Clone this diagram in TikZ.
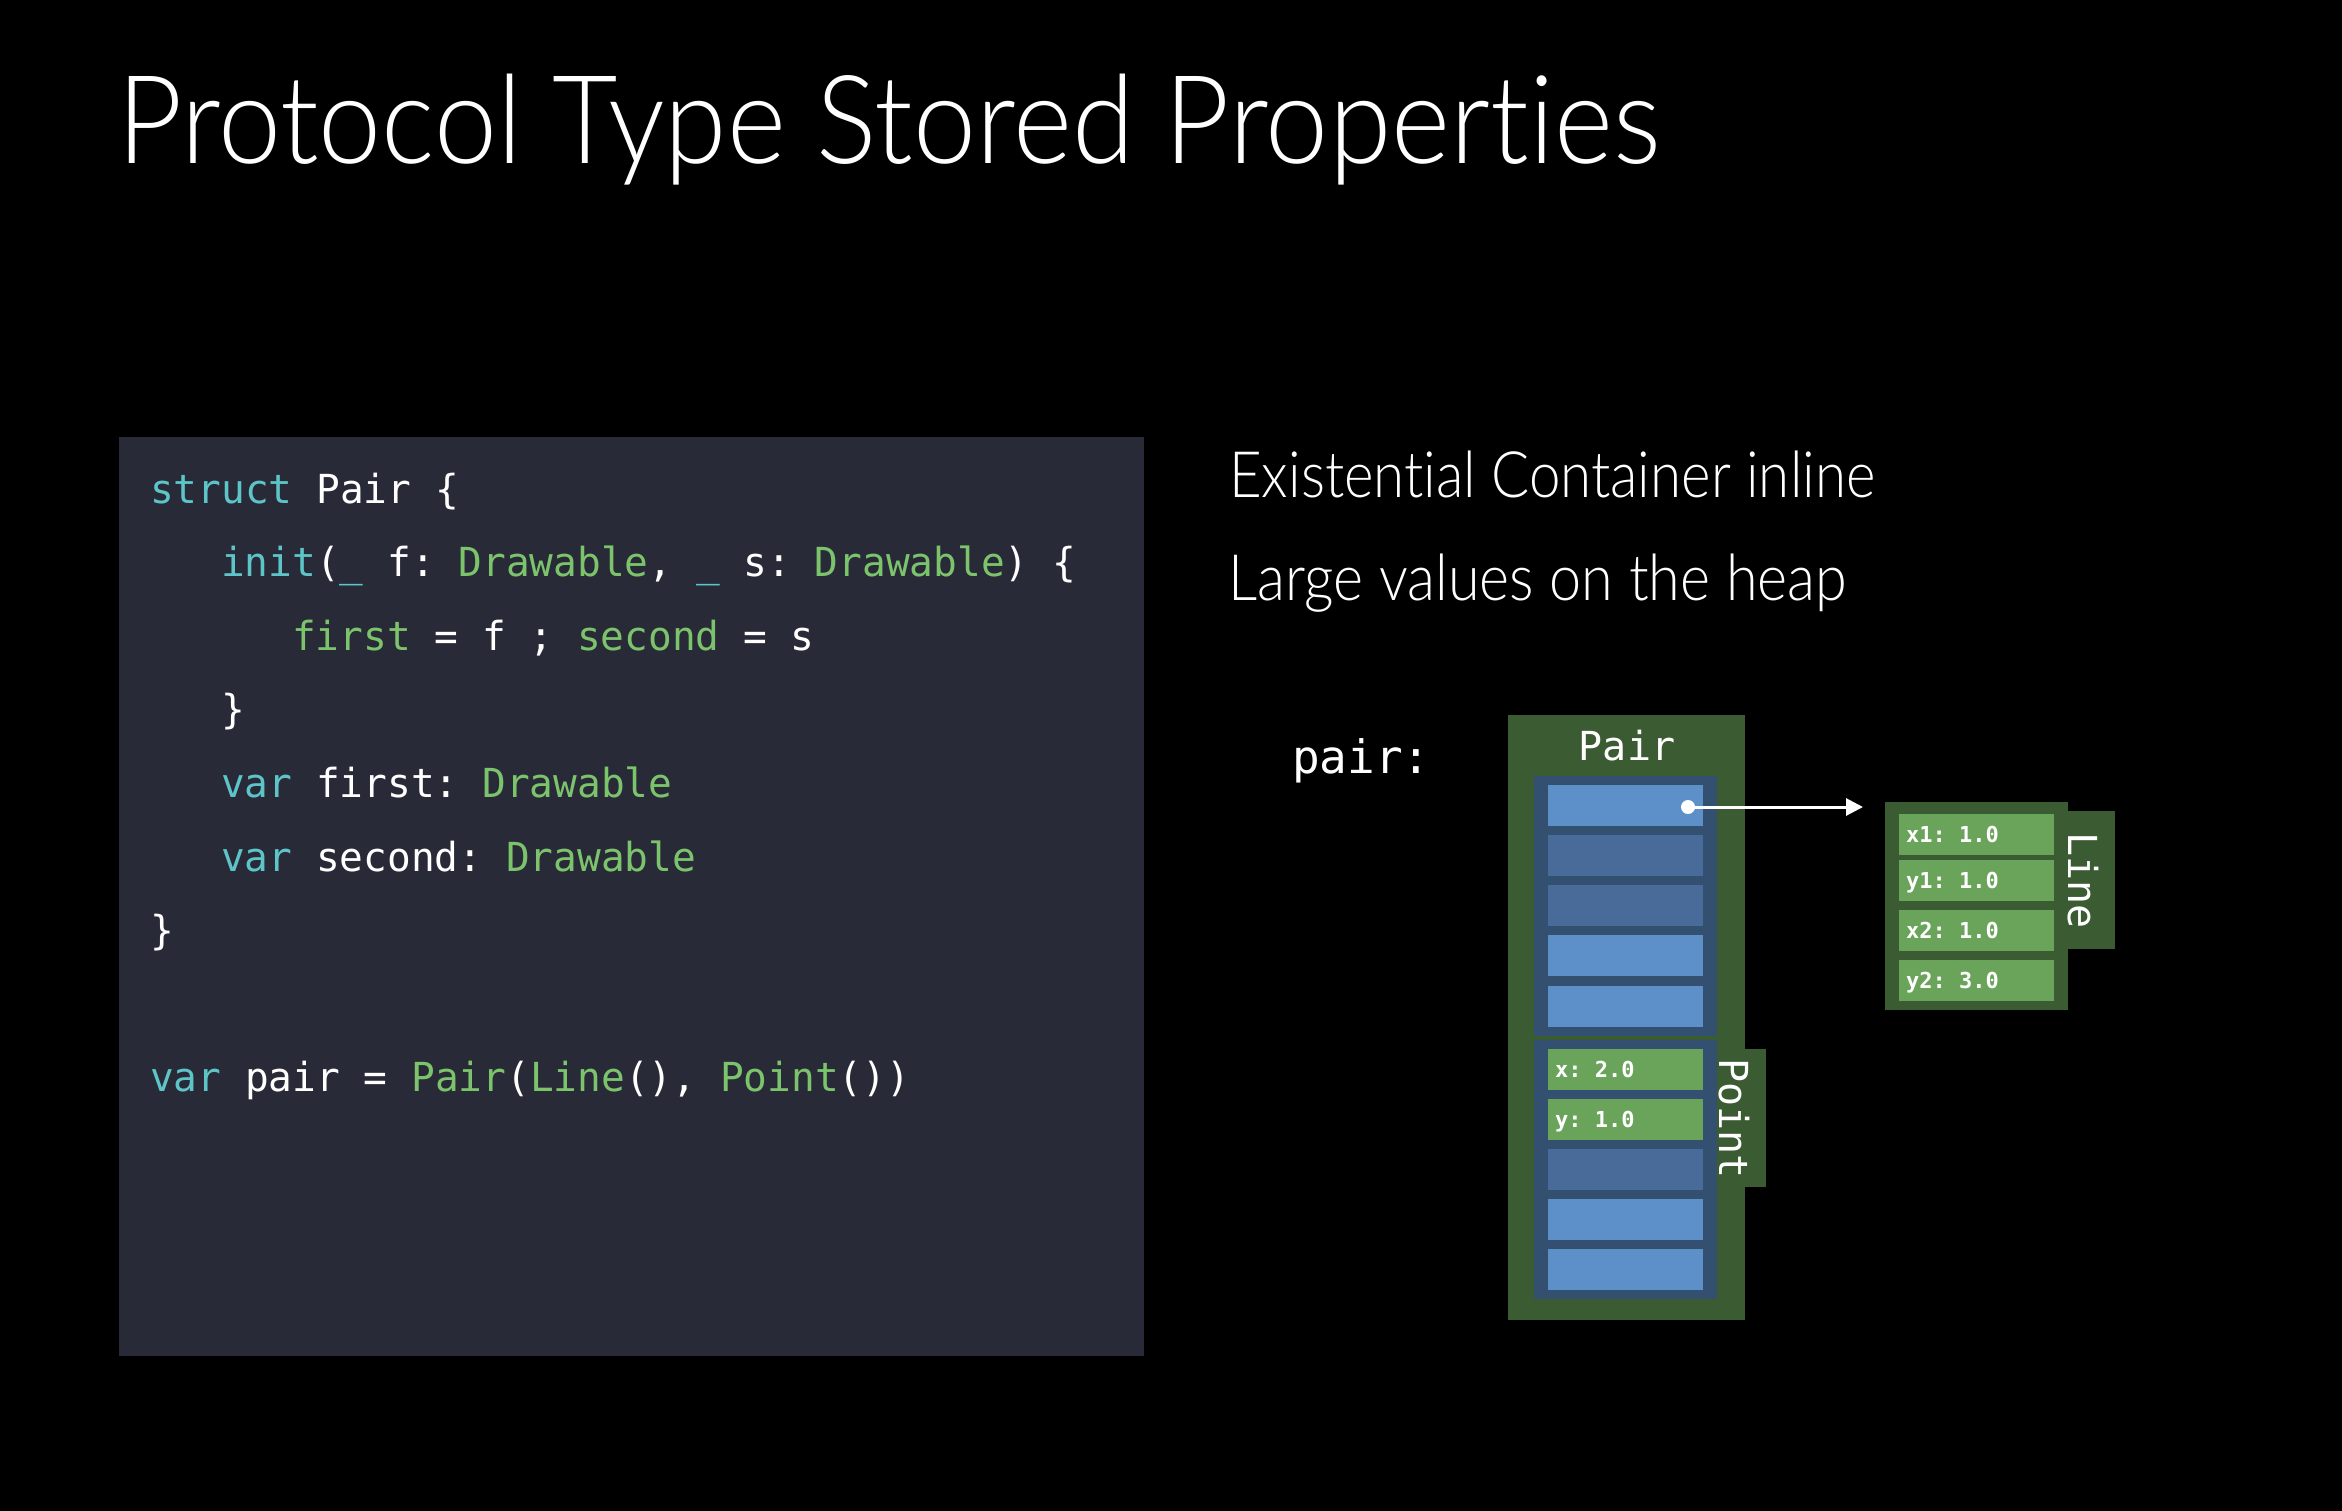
\documentclass[tikz,border=0pt]{standalone}
\usepackage{fontspec}
\usepackage{graphicx}
\setmainfont{Open Sans}
\IfFontExistsTF{Lato Light}
  {\newfontfamily\titlefont[Ligatures=NoCommon]{Lato Light}}
  {\newfontfamily\titlefont{Open Sans}}
\newfontfamily\codefont[FakeStretch=0.986]{DejaVu Sans Mono}
\newfontfamily\lblfont{DejaVu Sans Mono}
\usetikzlibrary{arrows.meta}
\definecolor{panelbg}{RGB}{41,42,56}
\definecolor{kwcol}{RGB}{93,196,200}
\definecolor{tycol}{RGB}{124,196,108}
\definecolor{boxgreen}{RGB}{59,91,50}
\definecolor{contblue}{RGB}{52,80,112}
\definecolor{slotlight}{RGB}{93,144,201}
\definecolor{slotmid}{RGB}{72,107,154}
\definecolor{slotgreen}{RGB}{106,164,91}
\newcommand\kwc[1]{\textcolor{kwcol}{#1}}
\newcommand\tyc[1]{\textcolor{tycol}{#1}}
\frenchspacing
\begin{document}
\begin{tikzpicture}[x=1pt,y=-1pt,
  codeline/.style={anchor=base west, inner sep=0pt, text=white, font=\codefont\fontsize{40}{48}\selectfont\frenchspacing},
  bigbox/.style={rectangle, inner sep=0pt, anchor=north west, fill=boxgreen},
  contbox/.style={rectangle, inner sep=0pt, anchor=north west, fill=contblue, minimum width=183pt},
  slotbox/.style={rectangle, inner sep=0pt, anchor=north west, minimum width=155pt, minimum height=41pt},
  slotlbl/.style={anchor=base west, inner sep=0pt, text=white, font=\lblfont\bfseries\fontsize{22}{26}\selectfont\frenchspacing},
  typelbl/.style={inner sep=0pt, text=white, font=\lblfont\fontsize{40}{48}\selectfont},
  subtitle/.style={anchor=base west, inner sep=0pt, text=white, font=\titlefont\fontsize{64}{72}\selectfont}
]
\useasboundingbox (0,0) rectangle (2342,1510);
\fill[black] (-5,-5) rectangle (2347,1515);

% title
\node[anchor=base west, inner sep=0pt, text=white, font=\titlefont\fontsize{123}{134}\selectfont] (title) at (117,163)
  {\resizebox{1543pt}{\height}{Protocol Type Stored Properties}};

% code panel
\fill[panelbg] (119,437) rectangle (1144,1356);
\node[codeline] (c0) at (150,503) {\kwc{struct} Pair \{};
\node[codeline] (c1) at (221,576.6) {\kwc{init}(\kwc{\_} f: \tyc{Drawable}, \kwc{\_} s: \tyc{Drawable}) \{};
\node[codeline] (c2) at (292,650.2) {\tyc{first} = f ; \tyc{second} = s};
\node[codeline] (c3) at (221,723.8) {\}};
\node[codeline] (c4) at (221,797.4) {\kwc{var} first: \tyc{Drawable}};
\node[codeline] (c5) at (221,871) {\kwc{var} second: \tyc{Drawable}};
\node[codeline] (c6) at (150,944.6) {\}};
\node[codeline] (c7) at (150,1091.8) {\kwc{var} pair = \tyc{Pair}(\tyc{Line}(), \tyc{Point}())};

% subtitles
\node[subtitle] (sub1) at (1229,497) {\resizebox{646pt}{\height}{Existential Container inline}};
\node[subtitle] (sub2) at (1228,600) {\resizebox{619pt}{\height}{Large values on the heap}};

% pair label
\node[anchor=base west, inner sep=0pt, text=white, font=\lblfont\fontsize{46}{54}\selectfont] (pairlbl) at (1292,773) {pair:};

% Pair box
\node[bigbox, minimum width=237pt, minimum height=605pt] (pairbox) at (1508,715) {};
\node[bigbox, minimum width=21pt, minimum height=138pt] (pointtab) at (1745,1049) {};
\node[contbox, minimum height=260pt] (cont1) at (1534,776) {};
\node[contbox, minimum height=259pt] (cont2) at (1534,1040) {};

\node[slotbox, fill=slotlight] (p1) at (1548,785) {};
\node[slotbox, fill=slotmid]   (p2) at (1548,835) {};
\node[slotbox, fill=slotmid]   (p3) at (1548,885) {};
\node[slotbox, fill=slotlight] (p4) at (1548,935) {};
\node[slotbox, fill=slotlight] (p5) at (1548,986) {};
\node[slotbox, fill=slotgreen] (q1) at (1548,1049) {};
\node[slotbox, fill=slotgreen] (q2) at (1548,1099) {};
\node[slotbox, fill=slotmid]   (q3) at (1548,1149) {};
\node[slotbox, fill=slotlight] (q4) at (1548,1199) {};
\node[slotbox, fill=slotlight] (q5) at (1548,1249) {};

\node[slotlbl] (qx) at (1555,1077.5) {x: 2.0};
\node[slotlbl] (qy) at (1555,1127.5) {y: 1.0};

\node[typelbl, anchor=base] (pairname) at (1627,760) {Pair};
\node[typelbl, anchor=base west, rotate=-90] (pointname) at (1719,1058) {Point};

% Line box
\node[bigbox, minimum width=183pt, minimum height=208pt] (linebox) at (1885,802) {};
\node[bigbox, minimum width=47pt, minimum height=138pt] (linetab) at (2068,811) {};
\node[slotbox, fill=slotgreen] (l1) at (1899,814) {};
\node[slotbox, fill=slotgreen] (l2) at (1899,860) {};
\node[slotbox, fill=slotgreen] (l3) at (1899,910) {};
\node[slotbox, fill=slotgreen] (l4) at (1899,960) {};
\node[slotlbl] (lx1) at (1906,842.5) {x1: 1.0};
\node[slotlbl] (ly1) at (1906,888.5) {y1: 1.0};
\node[slotlbl] (lx2) at (1906,938.5) {x2: 1.0};
\node[slotlbl] (ly2) at (1906,988.5) {y2: 3.0};
\node[typelbl, anchor=base west, rotate=-90] (linename) at (2068,832) {Line};

% pointer
\node[circle, fill=white, minimum size=14pt, inner sep=0pt] (dot) at (1688,807) {};
\draw[white, line width=3pt, shorten >=22pt, -{Triangle[length=17pt,width=17pt]}] (dot.center) -- (dot.center -| linebox.west);
\end{tikzpicture}
\end{document}
